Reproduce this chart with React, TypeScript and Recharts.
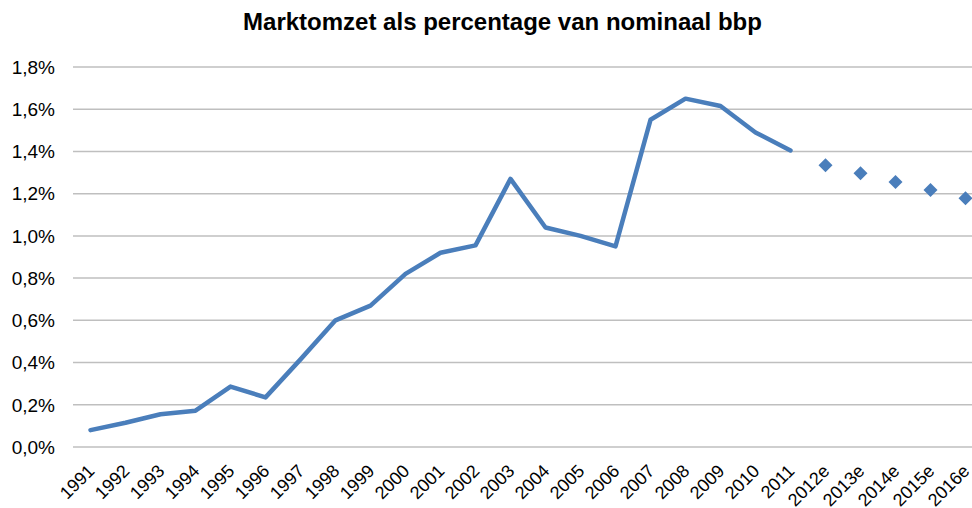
import React from 'react';
import { ComposedChart, Line, XAxis, YAxis, CartesianGrid } from 'recharts';

const years = ['1991','1992','1993','1994','1995','1996','1997','1998','1999','2000','2001','2002','2003','2004','2005','2006','2007','2008','2009','2010','2011','2012e','2013e','2014e','2015e','2016e'];
const actual: (number | null)[] = [0.08,0.115,0.155,0.172,0.286,0.235,0.415,0.6,0.67,0.82,0.92,0.955,1.27,1.04,1.0,0.95,1.55,1.65,1.615,1.49,1.405,null,null,null,null,null];
const estimate: (number | null)[] = [null,null,null,null,null,null,null,null,null,null,null,null,null,null,null,null,null,null,null,null,null,1.335,1.297,1.255,1.217,1.178];
const yTicks = [0,0.2,0.4,0.6,0.8,1.0,1.2,1.4,1.6,1.8];

const data = years.map((y, i) => ({ year: y, actual: actual[i], estimate: estimate[i] }));

const COLOR = '#4a7ebb';
const FONT = '"Liberation Sans", Arial, sans-serif';

const XTick = (props: any) => {
  const { x, y, payload } = props;
  const ax = x - 4;
  const ay = y + 8;
  return (
    <text x={ax} y={ay} transform={`rotate(-45 ${ax} ${ay})`} textAnchor="end" fontSize={18} fontFamily={FONT} fill="#000" dominantBaseline="hanging">
      {payload.value}
    </text>
  );
};

const Diamond = (props: any) => {
  const { cx, cy, value } = props;
  if (value == null || cx == null || cy == null) return null;
  const s = 7;
  return <polygon points={`${cx},${cy - s} ${cx + s},${cy} ${cx},${cy + s} ${cx - s},${cy}`} fill={COLOR} />;
};

export default function App() {
  return (
    <div style={{ position: 'absolute', left: 0, top: 0, width: 972, height: 508, overflow: 'hidden', background: '#fff' }}>
      <div style={{ position: 'absolute', left: 0, top: 8, width: 1005, textAlign: 'center', fontFamily: FONT, fontWeight: 'bold', fontSize: 24, color: '#000' }}>
        Marktomzet als percentage van nominaal bbp
      </div>
      <ComposedChart width={990} height={508} data={data} margin={{ top: 67, right: 7, left: 0, bottom: 0 }}>
        <CartesianGrid vertical={false} stroke="#bfbfbf" strokeWidth={1.5} />
        <XAxis dataKey="year" scale="band" height={61} tickLine={false} axisLine={false} interval={0} tick={<XTick />} />
        <YAxis width={73} domain={[0, 1.8]} ticks={yTicks} tickLine={false} axisLine={false} tickSize={6} tickMargin={12}
          tick={{ fontSize: 19, fontFamily: FONT, fill: '#000' }}
          tickFormatter={(v: number) => v.toFixed(1).replace('.', ',') + '%'} />
        <Line type="linear" dataKey="actual" stroke={COLOR} strokeWidth={4.5} dot={false} isAnimationActive={false} connectNulls={false} strokeLinejoin="round" strokeLinecap="round" />
        <Line type="linear" dataKey="estimate" stroke="none" dot={<Diamond />} activeDot={false} isAnimationActive={false} />
      </ComposedChart>
    </div>
  );
}
